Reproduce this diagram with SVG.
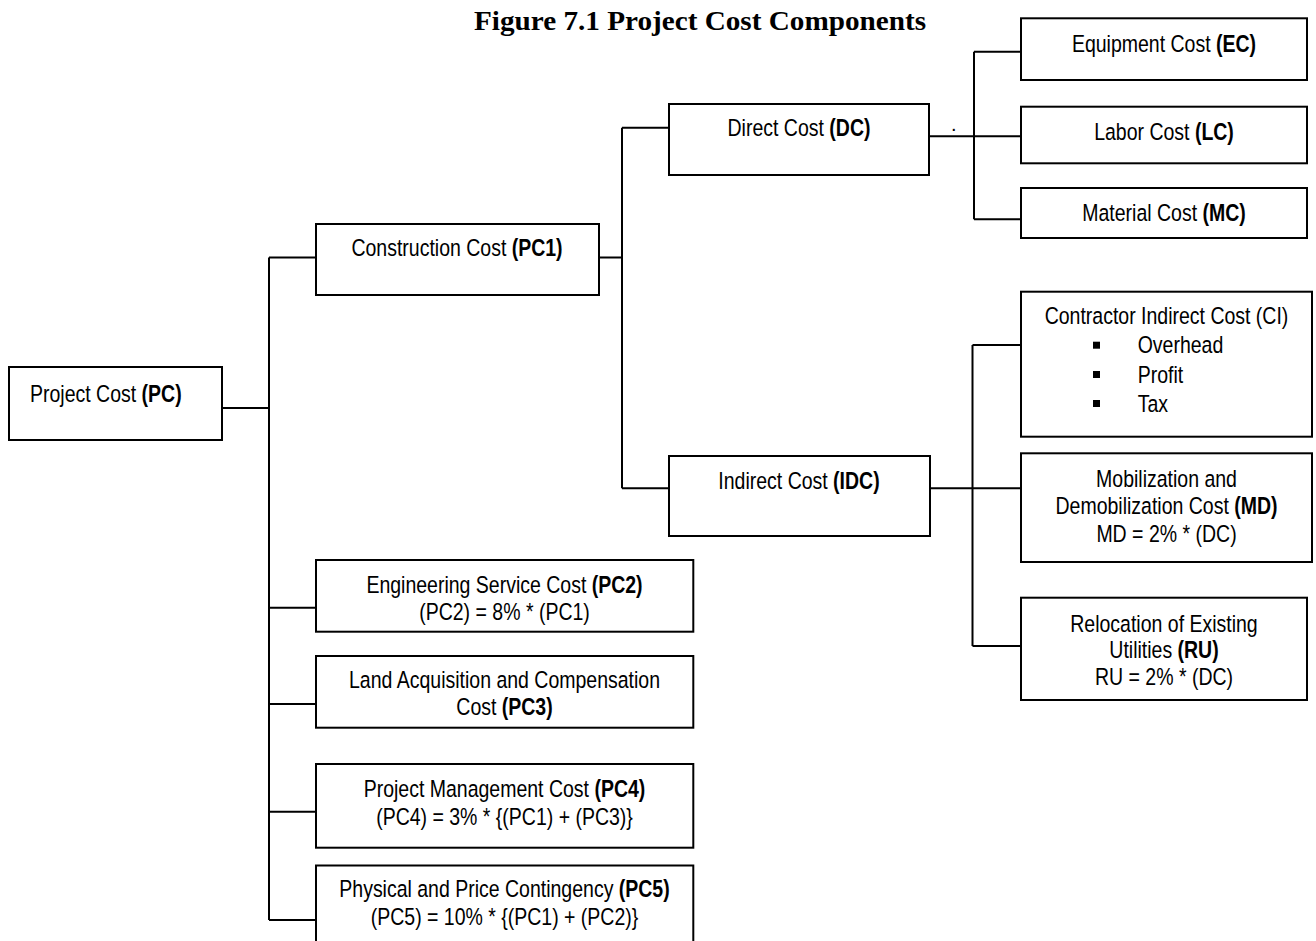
<svg xmlns="http://www.w3.org/2000/svg" width="1316" height="941" viewBox="0 0 1316 941">
<style>
.box{fill:#fff;stroke:#000;stroke-width:2}
.conn{fill:none;stroke:#000;stroke-width:2}
.t{font-family:"Liberation Sans",Arial,sans-serif;font-size:23.5px;fill:#000}
.c{text-anchor:middle}
.b{font-weight:bold}
.title{font-family:"Liberation Serif","Times New Roman",serif;font-size:27px;font-weight:bold;fill:#000}
</style>
<rect width="1316" height="941" fill="#fff"/>
<text class="title" x="474" y="30" textLength="452" lengthAdjust="spacingAndGlyphs">Figure 7.1 Project Cost Components</text>

<g id="connectors">
<path class="conn" d="M222,408 H269 M269,257.5 V920 M269,257.5 H316 M269,607.7 H316 M269,704 H316 M269,811.7 H316 M269,920 H316"/>
<path class="conn" d="M599,257.5 H622 M622,127.7 V488.3 M622,127.7 H669 M622,488.3 H669"/>
<path class="conn" d="M929,136.3 H974 M974,51.7 V219.3 M974,51.7 H1021 M974,136.3 H1021 M974,219.3 H1021"/>
<path class="conn" d="M930,488.3 H1021 M972.5,345 V646 M972.5,345 H1021 M972.5,646 H1021"/>
<text class="t" x="951" y="131" style="font-size:20px">.</text>
</g>

<g id="pc">
<rect class="box" x="9" y="367" width="213" height="73"/>
<text class="t" transform="translate(30,401.7) scale(0.83,1)">Project Cost <tspan class="b">(PC)</tspan></text>
</g>

<g id="pc1">
<rect class="box" x="316" y="224" width="283" height="71"/>
<text class="t c" transform="translate(457,255.7) scale(0.83,1)">Construction Cost <tspan class="b">(PC1)</tspan></text>
</g>

<g id="dc">
<rect class="box" x="669" y="104" width="260" height="71"/>
<text class="t c" transform="translate(799,135.7) scale(0.83,1)">Direct Cost <tspan class="b">(DC)</tspan></text>
</g>

<g id="idc">
<rect class="box" x="669" y="456" width="261" height="80"/>
<text class="t c" transform="translate(799,489) scale(0.83,1)">Indirect Cost <tspan class="b">(IDC)</tspan></text>
</g>

<g id="ec">
<rect class="box" x="1021" y="18.3" width="286" height="61.7"/>
<text class="t c" transform="translate(1164,51.7) scale(0.83,1)">Equipment Cost <tspan class="b">(EC)</tspan></text>
</g>

<g id="lc">
<rect class="box" x="1021" y="106.7" width="286" height="56.6"/>
<text class="t c" transform="translate(1164,140) scale(0.83,1)">Labor Cost <tspan class="b">(LC)</tspan></text>
</g>

<g id="mc">
<rect class="box" x="1021" y="188" width="286" height="50"/>
<text class="t c" transform="translate(1164,220.7) scale(0.83,1)">Material Cost <tspan class="b">(MC)</tspan></text>
</g>

<g id="ci">
<rect class="box" x="1021" y="291.7" width="291" height="145"/>
<text class="t c" transform="translate(1166.5,324.3) scale(0.83,1)">Contractor Indirect Cost (CI)</text>
<rect x="1093" y="341.7" width="7" height="7" fill="#000"/>
<rect x="1093" y="371" width="7" height="7" fill="#000"/>
<rect x="1093" y="400" width="7" height="7" fill="#000"/>
<text class="t" transform="translate(1137.7,353.3) scale(0.83,1)">Overhead</text>
<text class="t" transform="translate(1137.7,382.7) scale(0.83,1)">Profit</text>
<text class="t" transform="translate(1137.7,411.7) scale(0.83,1)">Tax</text>
</g>

<g id="md">
<rect class="box" x="1021" y="453.3" width="291" height="108.7"/>
<text class="t c" transform="translate(1166.5,486.7) scale(0.83,1)">Mobilization and</text>
<text class="t c" transform="translate(1166.5,513.5) scale(0.83,1)">Demobilization Cost <tspan class="b">(MD)</tspan></text>
<text class="t c" transform="translate(1166.5,541.7) scale(0.83,1)">MD = 2% * (DC)</text>
</g>

<g id="ru">
<rect class="box" x="1021" y="597.7" width="286" height="102.3"/>
<text class="t c" transform="translate(1164,631.7) scale(0.83,1)">Relocation of Existing</text>
<text class="t c" transform="translate(1164,658.3) scale(0.83,1)">Utilities <tspan class="b">(RU)</tspan></text>
<text class="t c" transform="translate(1164,685) scale(0.83,1)">RU = 2% * (DC)</text>
</g>

<g id="pc2">
<rect class="box" x="316" y="560" width="377.3" height="71.7"/>
<text class="t c" transform="translate(504.5,592.7) scale(0.83,1)">Engineering Service Cost <tspan class="b">(PC2)</tspan></text>
<text class="t c" transform="translate(504.5,620) scale(0.83,1)">(PC2) = 8% * (PC1)</text>
</g>

<g id="pc3">
<rect class="box" x="316" y="656" width="377.3" height="71.7"/>
<text class="t c" transform="translate(504.5,688.3) scale(0.83,1)">Land Acquisition and Compensation</text>
<text class="t c" transform="translate(504.5,715) scale(0.83,1)">Cost <tspan class="b">(PC3)</tspan></text>
</g>

<g id="pc4">
<rect class="box" x="316" y="764" width="377.3" height="83.7"/>
<text class="t c" transform="translate(504.5,796.7) scale(0.83,1)">Project Management Cost <tspan class="b">(PC4)</tspan></text>
<text class="t c" transform="translate(504.5,825) scale(0.83,1)">(PC4) = 3% * {(PC1) + (PC3)}</text>
</g>

<g id="pc5">
<rect class="box" x="316" y="865.5" width="377.3" height="90"/>
<text class="t c" transform="translate(504.5,896.7) scale(0.83,1)">Physical and Price Contingency <tspan class="b">(PC5)</tspan></text>
<text class="t c" transform="translate(504.5,925) scale(0.83,1)">(PC5) = 10% * {(PC1) + (PC2)}</text>
</g>
</svg>
